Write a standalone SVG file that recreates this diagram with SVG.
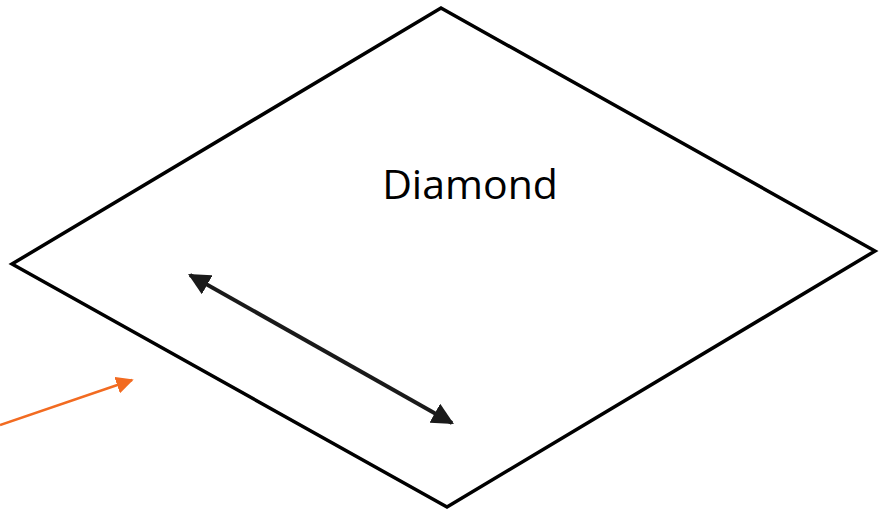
<svg xmlns="http://www.w3.org/2000/svg" width="883" height="512" viewBox="0 0 883 512">
<style>
.shape{fill:#fff;stroke:#000;stroke-width:3.5;stroke-linejoin:miter}
.lbl{font-family:"Open Sans","Noto Sans",sans-serif;font-size:41px;fill:#000}
.dbl{stroke:#1a1a1a;stroke-width:4;fill:none}
.org{stroke:#F26B21;stroke-width:2.5;fill:none}
</style>
<defs>
<marker id="ah" viewBox="0 0 10 10" refX="9" refY="5" markerWidth="5.5" markerHeight="5.5" orient="auto-start-reverse" markerUnits="strokeWidth">
<path d="M0,0 L10,5 L0,10 z" fill="#1a1a1a"/>
</marker>
<marker id="ao" viewBox="0 0 10 10" refX="9" refY="5" markerWidth="7" markerHeight="7" orient="auto" markerUnits="strokeWidth">
<path d="M0,0 L10,5 L0,10 z" fill="#F26B21"/>
</marker>
</defs>
<rect width="883" height="512" fill="#fff"/>
<g id="diamond">
<polygon class="shape" points="441,8 875,251 447,507 12,264"/>
<text class="lbl" x="470" y="199" text-anchor="middle">Diamond</text>
</g>
<g id="connectors">
<line class="dbl" x1="190" y1="275" x2="452" y2="423" marker-start="url(#ah)" marker-end="url(#ah)"/>
<line class="org" x1="0" y1="425" x2="132" y2="380" marker-end="url(#ao)"/>
</g>
</svg>
